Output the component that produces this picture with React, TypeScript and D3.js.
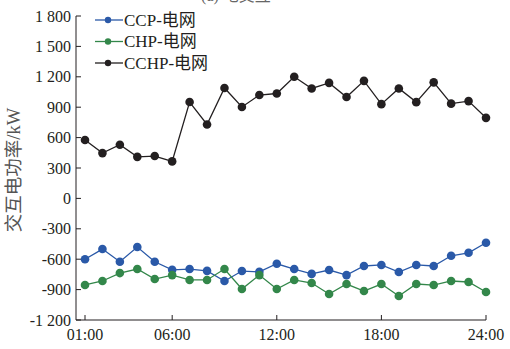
import * as d3 from "d3";

const hours = d3.range(1, 25);
const tickHours = [1, 6, 12, 18, 24];
const tickLabels = ["01:00", "06:00", "12:00", "18:00", "24:00"];
const yTicks = [-1200, -900, -600, -300, 0, 300, 600, 900, 1200, 1500, 1800];

const ccp = [-600, -500, -625, -480, -625, -705, -697, -715, -815, -717, -725, -645, -697, -745, -707, -757, -667, -657, -727, -657, -667, -566, -537, -438];
const chp = [-854, -815, -737, -697, -796, -757, -805, -805, -697, -894, -757, -894, -805, -835, -944, -845, -914, -845, -963, -845, -855, -815, -825, -924];
const cchp = [576, 447, 530, 410, 418, 365, 951, 730, 1090, 902, 1020, 1035, 1200, 1085, 1140, 1000, 1160, 930, 1085, 950, 1145, 935, 960, 795];

const seriesList = [
  { name: "CCP-电网", values: ccp, color: "#2a59a8" },
  { name: "CHP-电网", values: chp, color: "#33874a" },
  { name: "CCHP-电网", values: cchp, color: "#231f20" },
];

const width = 510,
  height = 349;
const axisX = 76,
  axisRight = 486,
  axisBottom = 320;
const font = "'Liberation Serif', 'Noto Sans CJK SC', serif";
const textColor = "#231f20";

function fmt(v: number) {
  const s = Math.abs(v).toString();
  const body = s.length > 3 ? s.slice(0, s.length - 3) + " " + s.slice(-3) : s;
  return (v < 0 ? "-" : "") + body;
}

export default function App() {
  const x = d3.scaleLinear().domain([1, 24]).range([85, axisRight]);
  const y = d3.scaleLinear().domain([-1200, 1800]).range([axisBottom, 16]);
  const line = d3
    .line<number>()
    .x((_, i) => x(hours[i]))
    .y((d) => y(d));

  return (
    <svg
      width={width}
      height={height}
      style={{ position: "absolute", left: 0, top: 0, background: "white" }}
      fontFamily={font}
    >
      {/* title, cut off at the top edge as in the source */}
      <text x={236} y={1} fontSize={16} fill="#666" textAnchor="middle">
        (a) 电交互
      </text>

      {/* axes */}
      <path
        d={`M${axisX},${y(1800)}V${axisBottom}H${axisRight}`}
        fill="none"
        stroke={textColor}
        strokeWidth={1}
      />
      {yTicks.map((t) => (
        <g key={t}>
          <line x1={axisX} x2={axisX + 5} y1={y(t)} y2={y(t)} stroke={textColor} />
          <text
            x={axisX - 5}
            y={y(t)}
            dy="0.35em"
            textAnchor="end"
            fontSize={16}
            fill={textColor}
          >
            {fmt(t)}
          </text>
        </g>
      ))}
      {tickHours.map((h, i) => (
        <g key={h}>
          <line x1={x(h)} x2={x(h)} y1={axisBottom} y2={axisBottom - 5} stroke={textColor} />
          <text
            x={x(h)}
            y={axisBottom + 20}
            textAnchor="middle"
            fontSize={16}
            fill={textColor}
          >
            {tickLabels[i]}
          </text>
        </g>
      ))}
      <text
        transform={`translate(20,170) rotate(-90)`}
        textAnchor="middle"
        fontSize={18.5}
        fill="#555"
      >
        交互电功率/kW
      </text>

      {/* series */}
      {seriesList.map((s) => (
        <g key={s.name}>
          <path d={line(s.values) || ""} fill="none" stroke={s.color} strokeWidth={1.3} />
          {s.values.map((v, i) => (
            <circle key={i} cx={x(hours[i])} cy={y(v)} r={4.3} fill={s.color} />
          ))}
        </g>
      ))}

      {/* legend */}
      {seriesList.map((s, i) => {
        const ly = 20 + i * 21.5;
        return (
          <g key={s.name}>
            <line x1={95} x2={123} y1={ly} y2={ly} stroke={s.color} strokeWidth={1.3} />
            <circle cx={108} cy={ly} r={3.2} fill={s.color} />
            <text x={124} y={ly} dy="0.35em" fontSize={17} fill={textColor}>
              {s.name}
            </text>
          </g>
        );
      })}
    </svg>
  );
}
